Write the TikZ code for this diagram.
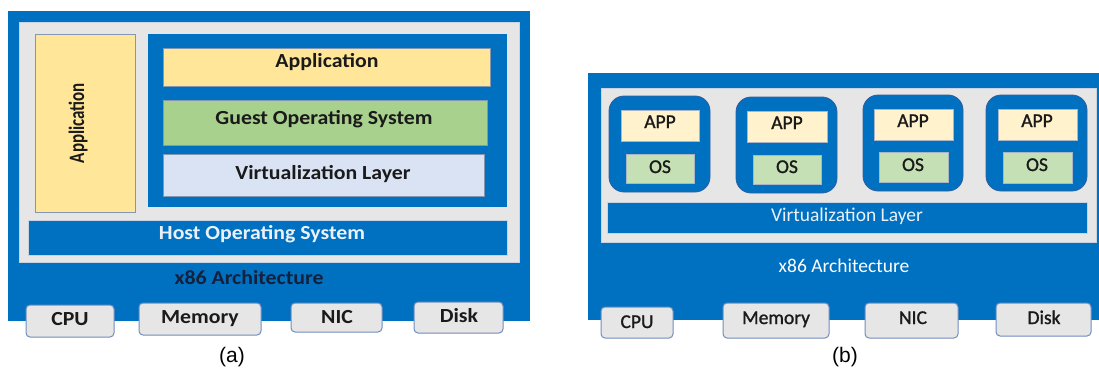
\documentclass[tikz,border=0pt]{standalone}
\usepackage{fontspec}
\setmainfont{Carlito}
\newfontfamily\arialfont{Liberation Sans}
\newfontfamily\semib[FakeBold=1.2]{Carlito}
\usetikzlibrary{fit}
\definecolor{vblue}{HTML}{0070C0}
\definecolor{vgray}{HTML}{E7E6E6}
\definecolor{grayedge}{HTML}{C9D3E3}
\definecolor{vyellow}{HTML}{FFE699}
\definecolor{vgreen}{HTML}{A9D18E}
\definecolor{vlight}{HTML}{DAE3F3}
\definecolor{vapp}{HTML}{FFF2CC}
\definecolor{vos}{HTML}{C5E0B4}
\definecolor{boxedge}{HTML}{8497B0}
\definecolor{tabedge}{HTML}{6F8DBF}
\definecolor{vmedge}{HTML}{2F5F9F}
\definecolor{txtdark}{HTML}{1A1A1A}
\definecolor{txtnavy}{HTML}{14213D}
\definecolor{txtlight}{HTML}{EAF1FA}
\newcommand\rbox[6]{\node[#6, fit={(#2,#3) (#4,#5)}] (#1) {};}
\newcommand\wA[1]{\scalebox{1.09}[1]{#1}}
\tikzset{
  base/.style={inner sep=0pt, outer sep=0pt, line width=0.8pt},
  bluebg/.style={base, fill=vblue, draw=none},
  graypan/.style={base, fill=vgray, draw=grayedge},
  yellowbox/.style={base, fill=vyellow, draw=boxedge},
  greenbox/.style={base, fill=vgreen, draw=boxedge},
  lightbox/.style={base, fill=vlight, draw=boxedge},
  hostbox/.style={base, fill=vblue, draw=grayedge},
  vmbox/.style={base, fill=vblue, draw=vmedge, rounded corners=15pt},
  appbox/.style={base, fill=vapp, draw=boxedge!70},
  osbox/.style={base, fill=vos, draw=boxedge!70},
  tabbox/.style={base, fill=vgray, draw=tabedge, line width=1pt, rounded corners=4pt},
  lblA/.style={anchor=base, inner sep=0pt, font=\fontsize{20}{24}\selectfont\bfseries, text=txtdark},
  lblB/.style={anchor=base, inner sep=0pt, font=\semib\fontsize{19.5}{23}\selectfont, text=txtdark},
  lblBw/.style={anchor=base, inner sep=0pt, font=\fontsize{19.5}{23}\selectfont, text=white},
  captxt/.style={anchor=base, inner sep=0pt, font=\arialfont\fontsize{21}{25}\selectfont, text=black},
}
\begin{document}
\begin{tikzpicture}[x=1pt, y=-1pt]
\useasboundingbox (0,0) rectangle (1099,369);
% ---------- panel (a) ----------
\rbox{outerA}{8}{11}{530}{321}{bluebg}
\rbox{grayA}{19}{22}{519}{262}{graypan}
\rbox{appL}{35}{34}{135}{212}{yellowbox}
\rbox{vmA}{148}{34}{507}{207}{bluebg}
\rbox{appT}{163}{48}{490}{86}{yellowbox}
\rbox{guest}{163}{100}{487}{145}{greenbox}
\rbox{virtA}{163}{154}{484}{196}{lightbox}
\rbox{hostA}{28}{220}{507}{255}{hostbox}
\rbox{cpuA}{26}{305}{114}{337}{tabbox}
\rbox{memA}{139}{303}{261}{335}{tabbox}
\rbox{nicA}{291}{303}{382}{332}{tabbox}
\rbox{diskA}{414}{302}{503}{333}{tabbox}
\node[lblA, anchor=center, rotate=90, font=\fontsize{22}{26}\selectfont\bfseries] (tAppL) at (78,123) {\scalebox{0.77}[1]{Application}};
\node[lblA] (tAppT) at (327,67) {\wA{Application}};
\node[lblA] (tGuest) at (324,124) {\wA{Guest Operating System}};
\node[lblA] (tVirtA) at (323,179) {\wA{Virtualization Layer}};
\node[lblA, text=txtlight] (tHost) at (262,239) {\wA{Host Operating System}};
\node[lblA, text=txtnavy] (tx86A) at (249,284) {\wA{x86 Architecture}};
\node[lblA] (tCpuA) at (70,325) {\wA{CPU}};
\node[lblA] (tMemA) at (200,323) {\wA{Memory}};
\node[lblA] (tNicA) at (337,323) {\wA{NIC}};
\node[lblA] (tDiskA) at (459,322) {\wA{Disk}};
\node[captxt] (capA) at (232,362) {(a)};
% ---------- panel (b) ----------
\rbox{outerB}{588}{73}{1099}{320}{bluebg}
\rbox{grayB}{601}{88}{1096}{242}{graypan}
\rbox{vm1}{609}{96}{710}{192}{vmbox}
\rbox{vm2}{736}{97}{837}{193}{vmbox}
\rbox{vm3}{863}{95}{963}{191}{vmbox}
\rbox{vm4}{986}{95}{1087}{191}{vmbox}
\rbox{app1}{621}{110}{699}{141}{appbox}
\rbox{os1}{626}{154}{694}{183}{osbox}
\rbox{app2}{747}{111}{827}{142}{appbox}
\rbox{os2}{753}{155}{821}{184}{osbox}
\rbox{app3}{874}{109}{953}{140}{appbox}
\rbox{os3}{879}{152}{948}{182}{osbox}
\rbox{app4}{998}{109}{1077}{140}{appbox}
\rbox{os4}{1003}{152}{1072}{183}{osbox}
\rbox{virtB}{607}{202}{1087}{233}{hostbox}
\rbox{cpuB}{601}{307}{673}{338}{tabbox}
\rbox{memB}{723}{303}{829}{338}{tabbox}
\rbox{nicB}{865}{303}{958}{338}{tabbox}
\rbox{diskB}{996}{303}{1091}{336}{tabbox}
\node[lblB] (tApp1) at (660,128) {APP};
\node[lblB] (tOs1) at (660,173) {OS};
\node[lblB] (tApp2) at (787,129) {APP};
\node[lblB] (tOs2) at (787,173) {OS};
\node[lblB] (tApp3) at (913,127) {APP};
\node[lblB] (tOs3) at (913,171) {OS};
\node[lblB] (tApp4) at (1037,127) {APP};
\node[lblB] (tOs4) at (1037,171) {OS};
\node[lblBw, text=txtlight] (tVirtB) at (847,221) {Virtualization Layer};
\node[lblBw] (tx86B) at (844,272) {x86 Architecture};
\node[lblB] (tCpuB) at (637,328) {CPU};
\node[lblB] (tMemB) at (776,324) {Memory};
\node[lblB] (tNicB) at (913,324) {NIC};
\node[lblB] (tDiskB) at (1044,324) {Disk};
\node[captxt] (capB) at (845,362) {(b)};
\end{tikzpicture}
\end{document}
